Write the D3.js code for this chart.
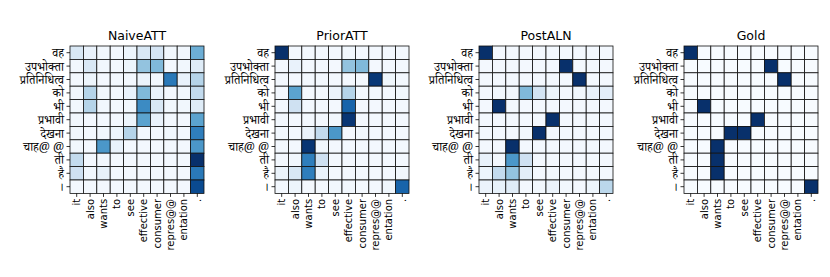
<!DOCTYPE html>
<html>
<head>
<meta charset="utf-8">
<script src="https://cdn.jsdelivr.net/npm/d3@7"></script>
<style>
  body { margin: 0; background: #fff; }
  text { font-family: "DejaVu Sans", sans-serif; }
</style>
</head>
<body>
<div id="chart"></div>
<script>
const srcWords = ["it", "also", "wants", "to", "see", "effective", "consumer", "repres@@", "entation", "."];
const tgtWords = ["वह", "उपभोक्ता", "प्रतिनिधित्व", "को", "भी", "प्रभावी", "देखना", "चाह@ @", "ती", "है", "।"];
const panelTitles = ["NaiveATT", "PriorATT", "PostALN", "Gold"];

// attention weights, rows = target words, cols = source words
const naiveAtt = [
    [0.15, 0.07, 0.03, 0.02, 0.05, 0.15, 0.17, 0.03, 0.03, 0.50],
    [0.03, 0.15, 0.03, 0.02, 0.05, 0.40, 0.45, 0.02, 0.03, 0.12],
    [0.02, 0.05, 0.02, 0.02, 0.02, 0.06, 0.03, 0.72, 0.07, 0.30],
    [0.03, 0.30, 0.03, 0.02, 0.07, 0.45, 0.07, 0.02, 0.03, 0.25],
    [0.03, 0.30, 0.03, 0.02, 0.03, 0.65, 0.15, 0.03, 0.03, 0.12],
    [0.03, 0.02, 0.02, 0.02, 0.05, 0.55, 0.07, 0.02, 0.02, 0.55],
    [0.03, 0.02, 0.03, 0.05, 0.30, 0.02, 0.02, 0.03, 0.02, 0.70],
    [0.03, 0.02, 0.60, 0.07, 0.02, 0.02, 0.02, 0.02, 0.02, 0.60],
    [0.25, 0.02, 0.03, 0.02, 0.02, 0.02, 0.02, 0.02, 0.02, 1.00],
    [0.20, 0.03, 0.08, 0.02, 0.02, 0.02, 0.02, 0.02, 0.02, 0.72],
    [0.02, 0.02, 0.02, 0.02, 0.02, 0.02, 0.02, 0.02, 0.02, 0.90]
];
const priorAtt = [
    [1.00, 0.02, 0.02, 0.02, 0.02, 0.03, 0.02, 0.02, 0.02, 0.02],
    [0.02, 0.07, 0.02, 0.02, 0.02, 0.40, 0.45, 0.02, 0.02, 0.02],
    [0.02, 0.02, 0.02, 0.02, 0.02, 0.02, 0.02, 0.97, 0.04, 0.02],
    [0.02, 0.55, 0.02, 0.02, 0.06, 0.30, 0.02, 0.02, 0.02, 0.03],
    [0.02, 0.20, 0.02, 0.02, 0.02, 0.80, 0.02, 0.02, 0.02, 0.02],
    [0.02, 0.02, 0.02, 0.02, 0.03, 0.98, 0.02, 0.02, 0.02, 0.02],
    [0.02, 0.02, 0.06, 0.25, 0.60, 0.02, 0.03, 0.02, 0.02, 0.02],
    [0.02, 0.02, 0.98, 0.03, 0.02, 0.02, 0.02, 0.02, 0.02, 0.02],
    [0.02, 0.03, 0.70, 0.20, 0.02, 0.02, 0.02, 0.02, 0.02, 0.02],
    [0.06, 0.15, 0.70, 0.07, 0.02, 0.02, 0.02, 0.02, 0.02, 0.03],
    [0.02, 0.05, 0.02, 0.02, 0.03, 0.03, 0.02, 0.02, 0.04, 0.80]
];
const postAln = [
    [1.00, 0.02, 0.02, 0.02, 0.02, 0.02, 0.02, 0.02, 0.02, 0.02],
    [0.02, 0.02, 0.02, 0.02, 0.02, 0.02, 1.00, 0.02, 0.02, 0.02],
    [0.02, 0.02, 0.02, 0.02, 0.02, 0.02, 0.02, 1.00, 0.02, 0.02],
    [0.02, 0.03, 0.03, 0.45, 0.18, 0.05, 0.02, 0.03, 0.07, 0.10],
    [0.02, 1.00, 0.02, 0.02, 0.02, 0.02, 0.02, 0.02, 0.02, 0.02],
    [0.02, 0.02, 0.02, 0.02, 0.02, 1.00, 0.02, 0.02, 0.02, 0.02],
    [0.02, 0.02, 0.02, 0.03, 1.00, 0.02, 0.02, 0.02, 0.02, 0.02],
    [0.02, 0.02, 1.00, 0.02, 0.02, 0.02, 0.02, 0.02, 0.02, 0.02],
    [0.07, 0.02, 0.60, 0.20, 0.02, 0.02, 0.02, 0.02, 0.02, 0.02],
    [0.05, 0.25, 0.40, 0.10, 0.02, 0.02, 0.02, 0.02, 0.02, 0.02],
    [0.06, 0.08, 0.12, 0.02, 0.03, 0.06, 0.03, 0.02, 0.05, 0.28]
];
const gold = [
    [1, 0, 0, 0, 0, 0, 0, 0, 0, 0],
    [0, 0, 0, 0, 0, 0, 1, 0, 0, 0],
    [0, 0, 0, 0, 0, 0, 0, 1, 0, 0],
    [0, 0, 0, 0, 0, 0, 0, 0, 0, 0],
    [0, 1, 0, 0, 0, 0, 0, 0, 0, 0],
    [0, 0, 0, 0, 0, 1, 0, 0, 0, 0],
    [0, 0, 0, 1, 1, 0, 0, 0, 0, 0],
    [0, 0, 1, 0, 0, 0, 0, 0, 0, 0],
    [0, 0, 1, 0, 0, 0, 0, 0, 0, 0],
    [0, 0, 1, 0, 0, 0, 0, 0, 0, 0],
    [0, 0, 0, 0, 0, 0, 0, 0, 0, 1]
];
const matrices = [naiveAtt, priorAtt, postAln, gold];

const W = 830, H = 277;
const cell = 13.4;
const gridTop = 46;
const lefts = [70, 275, 479, 684];

const svg = d3.select("#chart").append("svg")
    .attr("width", W)
    .attr("height", H);

const color = d3.scaleSequential(d3.interpolateBlues).domain([0, 1]);

matrices.forEach((m, p) => {
    const x = d3.scaleBand().domain(srcWords).range([0, srcWords.length * cell]);
    const y = d3.scaleBand().domain(tgtWords).range([0, tgtWords.length * cell]);

    const g = svg.append("g").attr("transform", `translate(${lefts[p]},${gridTop})`);

    const cells = [];
    m.forEach((row, i) => row.forEach((v, j) => cells.push({ r: tgtWords[i], c: srcWords[j], v: v })));

    g.selectAll("rect.cell")
        .data(cells)
        .enter()
        .append("rect")
            .attr("class", "cell")
            .attr("x", d => x(d.c))
            .attr("y", d => y(d.r))
            .attr("width", x.bandwidth())
            .attr("height", y.bandwidth())
            .style("fill", d => color(d.v))
            .style("stroke", "#111")
            .style("stroke-width", 0.8);

    // axes
    const xAxis = g.append("g")
        .attr("transform", `translate(0,${y.range()[1]})`)
        .call(d3.axisBottom(x).tickSize(3.5).tickPadding(2));
    xAxis.select(".domain").remove();
    xAxis.selectAll("text")
        .attr("transform", "rotate(-90)")
        .attr("x", -5.5)
        .attr("y", 0)
        .attr("dy", "0.35em")
        .style("text-anchor", "end")
        .style("font-size", "10px")
        .style("font-family", "'DejaVu Sans', sans-serif")
        .style("fill", "#000");

    const yAxis = g.append("g")
        .call(d3.axisLeft(y).tickSize(3.5).tickPadding(2.5));
    yAxis.select(".domain").remove();
    yAxis.selectAll("text")
        .attr("dy", "0.38em")
        .style("font-size", "12px")
        .style("font-family", "'Noto Serif Devanagari', 'Noto Sans Devanagari', 'Lohit Devanagari', serif")
        .style("fill", "#000");
    g.selectAll(".tick line").style("stroke", "#000").style("stroke-width", 0.8);

    g.append("text")
        .attr("x", x.range()[1] / 2)
        .attr("y", -6)
        .attr("text-anchor", "middle")
        .style("font-size", "12.5px")
        .text(panelTitles[p]);
});
</script>
</body>
</html>
